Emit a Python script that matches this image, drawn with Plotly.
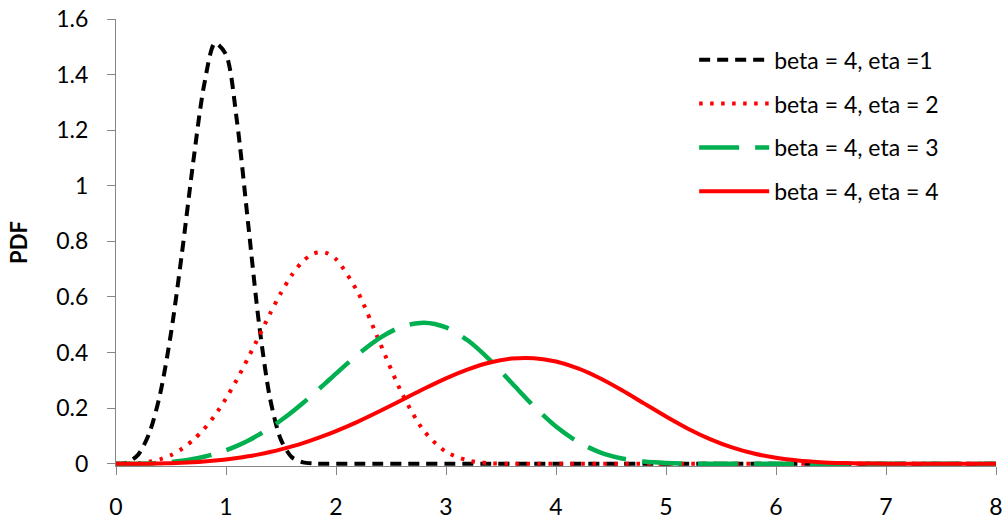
import plotly.graph_objects as go

# x positions (shared by all series)
x_vals = [0.0, 0.1, 0.2, 0.3, 0.4, 0.5, 0.6, 0.7, 0.8, 0.9,
          1.0, 1.1, 1.2, 1.3, 1.4, 1.5, 1.6, 1.7, 1.8, 1.9,
          2.0, 2.2, 2.4, 2.6, 2.8, 3.0, 3.2, 3.4, 3.6, 3.8,
          4.0, 4.2, 4.4, 4.6, 4.8, 5.0, 5.2, 5.4, 5.6, 5.8,
          6.0, 6.2, 6.4, 6.6, 6.8, 7.0, 7.2, 7.4, 7.6, 7.8, 8.0]

pdf_eta1 = [0.0, 0.004, 0.032, 0.107, 0.249, 0.470, 0.759, 1.079, 1.360, 1.513,
            1.472, 1.231, 0.869, 0.505, 0.236, 0.086, 0.023, 0.005, 0.001, 0.0,
            0.0, 0.0, 0.0, 0.0, 0.0, 0.0, 0.0, 0.0, 0.0, 0.0,
            0.0, 0.0, 0.0, 0.0, 0.0, 0.0, 0.0, 0.0, 0.0, 0.0,
            0.0, 0.0, 0.0, 0.0, 0.0, 0.0, 0.0, 0.0, 0.0, 0.0, 0.0]

pdf_eta2 = [0.0, 0.0003, 0.002, 0.007, 0.016, 0.031, 0.054, 0.085, 0.125, 0.175,
            0.235, 0.304, 0.380, 0.459, 0.540, 0.615, 0.680, 0.729, 0.757, 0.760,
            0.736, 0.616, 0.434, 0.253, 0.118, 0.043, 0.012, 0.002, 0.0003, 0.0,
            0.0, 0.0, 0.0, 0.0, 0.0, 0.0, 0.0, 0.0, 0.0, 0.0,
            0.0, 0.0, 0.0, 0.0, 0.0, 0.0, 0.0, 0.0, 0.0, 0.0, 0.0]

pdf_eta3 = [0.0, 0.0, 0.0004, 0.0013, 0.0032, 0.0062, 0.0106, 0.0169, 0.0252, 0.0357,
            0.0488, 0.0646, 0.0832, 0.1047, 0.1292, 0.1566, 0.1866, 0.2188, 0.2530, 0.2884,
            0.3243, 0.3938, 0.4532, 0.4937, 0.5076, 0.4905, 0.4434, 0.3729, 0.2896, 0.2065,
            0.1340, 0.0785, 0.0411, 0.0191, 0.0078, 0.0027, 0.0008, 0.0002, 0.0, 0.0,
            0.0, 0.0, 0.0, 0.0, 0.0, 0.0, 0.0, 0.0, 0.0, 0.0, 0.0]

pdf_eta4 = [0.0, 0.0, 0.0001, 0.0004, 0.0010, 0.0020, 0.0034, 0.0054, 0.0080, 0.0114,
            0.0156, 0.0207, 0.0268, 0.0339, 0.0422, 0.0517, 0.0624, 0.0743, 0.0875, 0.1018,
            0.1174, 0.1518, 0.1897, 0.2297, 0.2698, 0.3075, 0.3399, 0.3644, 0.3783, 0.3797,
            0.3679, 0.3434, 0.3079, 0.2646, 0.2172, 0.1701, 0.1263, 0.0888, 0.0589, 0.0367,
            0.0214, 0.0116, 0.0058, 0.0027, 0.0012, 0.0005, 0.0002, 0.0001, 0.0, 0.0, 0.0]

series_names = ["beta = 4, eta =1", "beta = 4, eta = 2", "beta = 4, eta = 3", "beta = 4, eta = 4"]
series_vals = [pdf_eta1, pdf_eta2, pdf_eta3, pdf_eta4]
series_colors = ["#000000", "#FF0000", "#00B050", "#FF0000"]
series_dash = ["11px,7px", "3.5px,7.5px", "40px,16px", "solid"]
series_width = [4, 4, 4.5, 4]

FONT = "Lato, 'Liberation Sans', sans-serif"

fig = go.Figure()
for i, (name, vals) in enumerate(zip(series_names, series_vals)):
    fig.add_trace(go.Scatter(
        x=x_vals, y=vals, mode="lines", name=name,
        legendgroup=f"g{i}",
        line=dict(color=series_colors[i], width=series_width[i],
                  dash=series_dash[i], shape="spline", smoothing=0.8),
    ))

fig.update_layout(
    width=1003, height=520,
    margin=dict(l=116, r=7, t=19, b=53.5, autoexpand=False),
    paper_bgcolor="white", plot_bgcolor="white",
    font=dict(family=FONT, size=22, color="#000000"),
    showlegend=True,
    legend=dict(
        x=0.657, y=0.957, xanchor="left", yanchor="top",
        font=dict(family=FONT, size=23, color="#000000"),
        bgcolor="rgba(0,0,0,0)", tracegroupgap=11, itemwidth=70,
        traceorder="grouped",
    ),
    xaxis=dict(
        range=[0, 8], dtick=1, tick0=0,
        showgrid=False, zeroline=False, automargin=False,
        showline=True, linecolor="#868686", linewidth=1.3,
        ticks="outside", ticklen=8, tickcolor="#868686", tickwidth=1.3,
        ticklabelstandoff=12, layer="below traces",
        tickfont=dict(family=FONT, size=23, color="#000000"),
    ),
    yaxis=dict(
        range=[-0.008, 1.6], dtick=0.2, tick0=0,
        showgrid=False, zeroline=False, automargin=False,
        showline=True, linecolor="#868686", linewidth=1.3,
        ticks="outside", ticklen=8, tickcolor="#868686", tickwidth=1.3,
        ticklabelstandoff=14, layer="below traces",
        tickfont=dict(family=FONT, size=23, color="#000000"),
        title=dict(text="<b>PDF</b>", standoff=22,
                   font=dict(family=FONT, size=22, color="#000000")),
    ),
)

fig.write_html("out.html")
